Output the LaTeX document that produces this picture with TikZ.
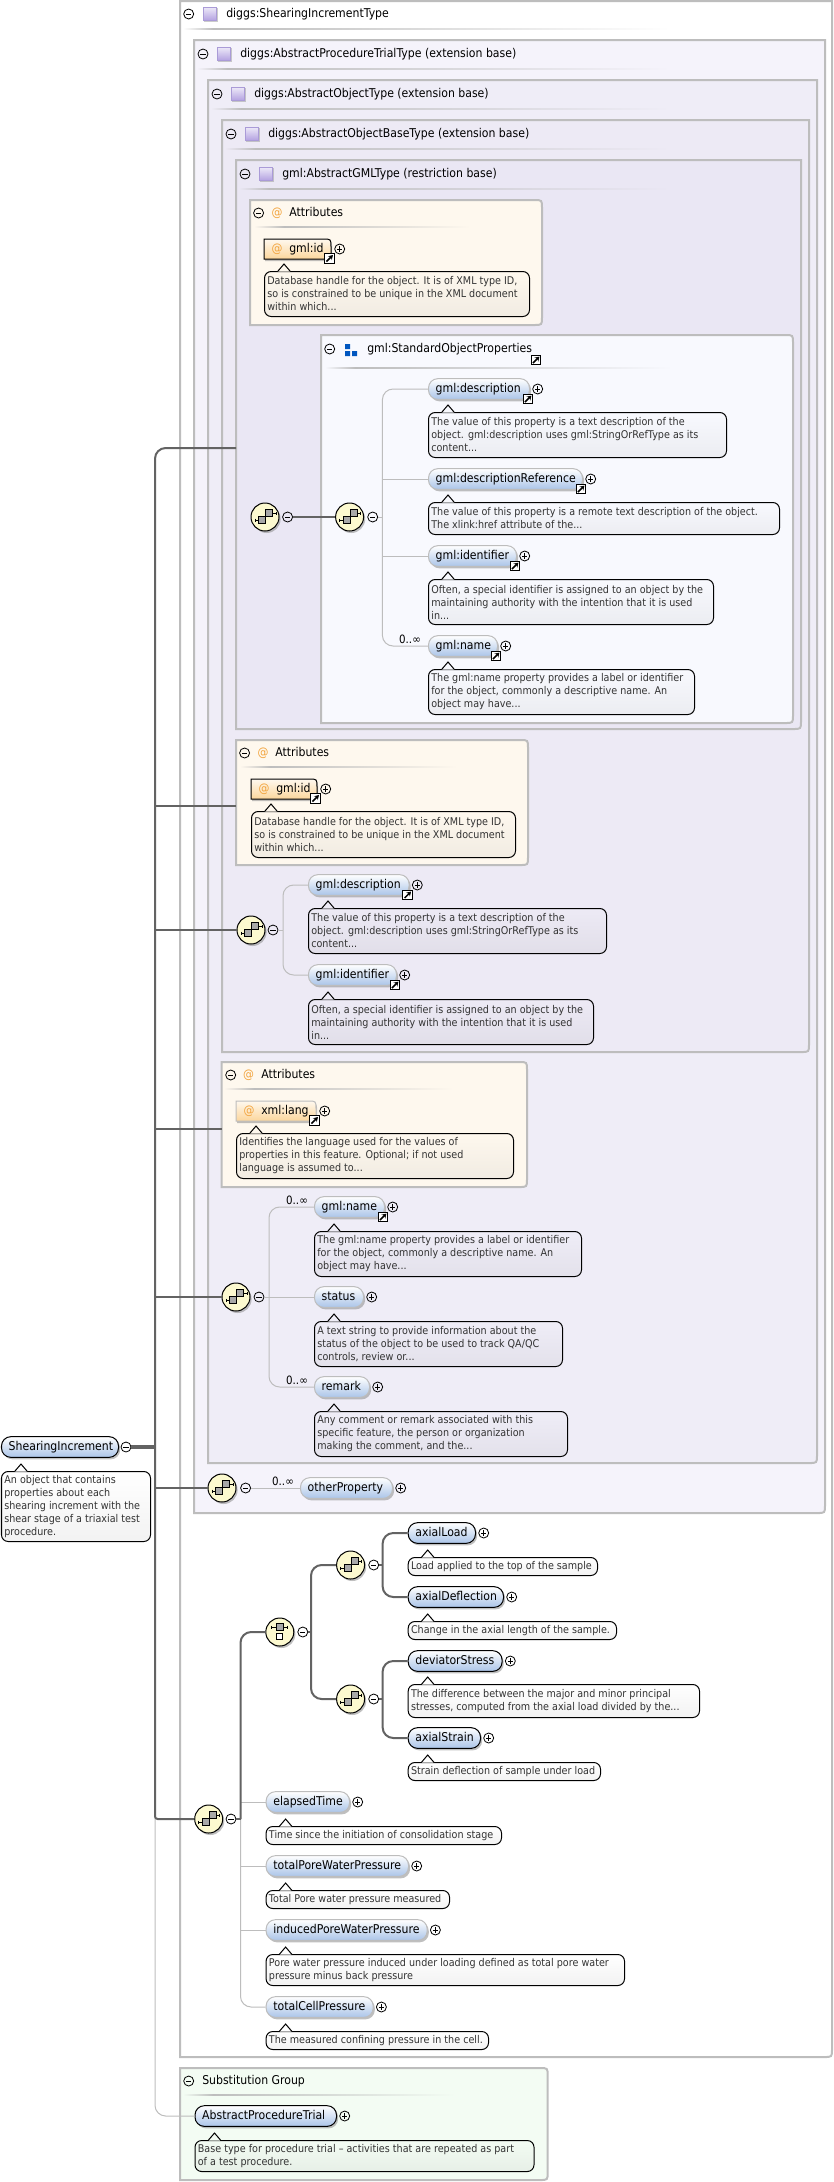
\documentclass[tikz,border=0pt]{standalone}
\usepackage{fontspec}
\setmainfont{DejaVu Sans}[FakeStretch=0.9]
\usetikzlibrary{arrows.meta,shadows}

\definecolor{lvone}{HTML}{F5F3FB}
\definecolor{lvtwo}{HTML}{EFEDF7}
\definecolor{lvthree}{HTML}{EDEAF5}
\definecolor{lvfour}{HTML}{EAE7F4}
\definecolor{sopbg}{HTML}{F8F9FE}
\definecolor{attrbg}{HTML}{FEF8EE}
\definecolor{subbg}{HTML}{F3FCF3}
\definecolor{rimgray}{HTML}{BDBDBD}
\definecolor{stemgray}{HTML}{636363}
\definecolor{boxgray}{HTML}{A8A8A8}

\newcommand{\typepanel}[5]{\draw[panel,fill=#5] (#1,#2) -- (#3,#2) -- (#3,{#4-8}) .. controls (#3,#4) .. ({#3-8},#4) -- (#1,#4) -- cycle;}
\newcommand{\roundpanel}[5]{\draw[panel,fill=#5] (#1,#2) -- ({#3-8},#2) .. controls (#3,#2) .. (#3,{#2+8}) -- (#3,{#4-8}) .. controls (#3,#4) .. ({#3-8},#4) -- (#1,#4) -- cycle;}
\newcommand{\panelhead}[5]{%
  \node[minusc] (#1) at (#2,#3) {};
  \node[lab,anchor=west] (#1-t) at (#4,#3) {#5};}
\newcommand{\sepline}[4]{%
  \shade[left color=#4,right color=rimgray] (#1,#3) rectangle ({#1+30},{#3+1.7});
  \shade[left color=rimgray,right color=#4] ({#1+30},#3) rectangle (#2,{#3+1.7});}
\newcommand{\descnote}[7]{%
  \node[notebox=#2,anchor=north west,minimum width={(#5-#3)*0.75pt},minimum height={(#6-#4)*0.75pt},
    label={[desc]west:{#7}}] (#1) at (#3,#4) {};
  \filldraw[fill=#2,line width=.75pt] ({#3+13.5},{#4+.6}) -- ({#3+20},{#4-7}) -- ({#3+26.5},{#4+.6});}
\newcommand{\elem}[6][]{%
  \node[pill,#1,anchor=west,minimum width={(#5-#3)*0.75pt},label={[lab,anchor=west,xshift=5.6pt]west:{#6}}] (#2) at (#3,#4) {};
  \node[plusc] (#2-p) at ({#5+8.7},#4) {};}
\newcommand{\jump}[1]{\node[jumpbox] (#1-j) at ([shift={(-2,10)}]#1.east) {};}
\newcommand{\attrnode}[6][draw=black]{%
  \draw[attrshape,#1] (#3,{#4-10}) -- ({#5-8},{#4-10}) .. controls (#5,{#4-10}) .. (#5,{#4-2}) -- (#5,{#4+10}) -- (#3,{#4+10}) -- cycle;
  \node[atsign] (#2-a) at ({#3+13},#4) {@};
  \node[lab,anchor=west] (#2) at ({#3+25},#4) {#6};
  \node[plusc] (#2-p) at ({#5+8.7},#4) {};
  \node[jumpbox] (#2-j) at ({#5-1.5},{#4+9.5}) {};}

\begin{document}
\begin{tikzpicture}[
    x=0.75pt, y=-0.75pt,
    panel/.style={draw=rimgray, line width=1.5pt},
    lab/.style={inner sep=0pt, text height=7pt, text depth=2pt, font={\fontsize{9.1}{10}\selectfont}},
    desc/.style={anchor=west, inner sep=0pt, xshift=2.3pt, align=left, text=black!80, font={\fontsize{8}{9.75}\selectfont}},
    notebox/.style={draw=black, line width=.75pt, rounded corners=5pt, top color=#1, bottom color=#1!95!black, inner sep=0pt},
    pill/.style={draw=black, line width=.75pt, rounded corners=7pt, minimum height=15.5pt, inner sep=0pt,
      top color=white, middle color={rgb,255:red,226;green,235;blue,249}, bottom color={rgb,255:red,170;green,196;blue,232},
      drop shadow={shadow xshift=1.2pt, shadow yshift=-1.5pt, opacity=.55, fill=black!45}},
    inh/.style={draw=rimgray},
    attrshape/.style={line width=.75pt, top color=attrbg, bottom color={rgb,255:red,252;green,214;blue,156},
      drop shadow={shadow xshift=.8pt, shadow yshift=-1.5pt, opacity=.55, fill=black!45}},
    atsign/.style={inner sep=0pt, text={rgb,255:red,242;green,163;blue,60}, font={\fontsize{9.1}{10}\selectfont}},
    minusc/.style={circle, draw=black, line width=.6pt, minimum size=7.5pt, inner sep=0pt,
      path picture={\draw[line width=.6pt] ([xshift=-2pt]path picture bounding box.center) -- ([xshift=2pt]path picture bounding box.center);}},
    plusc/.style={minusc,
      path picture={\draw[line width=.6pt] ([xshift=-2pt]path picture bounding box.center) -- ([xshift=2pt]path picture bounding box.center)
        ([yshift=-2pt]path picture bounding box.center) -- ([yshift=2pt]path picture bounding box.center);}},
    jumpbox/.style={rectangle, draw=black, fill=white, line width=1pt, minimum size=7.2pt, inner sep=0pt,
      path picture={\draw[line width=1.1pt,-{Stealth[length=3.2pt,width=4pt]}] ([shift={(-3,3)}]path picture bounding box.center) -- ([shift={(3.4,-3.4)}]path picture bounding box.center);}},
    typeicon/.style={rectangle, draw={rgb,255:red,170;green,155;blue,215}, line width=.5pt, minimum size=10pt, inner sep=0pt,
      top color={rgb,255:red,236;green,232;blue,248}, bottom color={rgb,255:red,178;green,160;blue,224},
      drop shadow={shadow xshift=.8pt, shadow yshift=-.8pt, opacity=.5, fill=black!40}},
    groupicon/.style={rectangle, minimum size=9pt, inner sep=0pt,
      path picture={\begin{scope}[shift={(path picture bounding box.center)}]
        \fill[blue!55!cyan!75!black] (-6,-6) rectangle (-1,-1) (-6,1) rectangle (-1,6) (1,1) rectangle (6,6);
      \end{scope}}},
    seqnode/.style={circle, draw=black, line width=.75pt, fill={rgb,255:red,252;green,249;blue,207}, minimum size=21pt, inner sep=0pt,
      drop shadow={shadow xshift=1.2pt, shadow yshift=-1.5pt, opacity=.55, fill=black!45},
      path picture={\begin{scope}[shift={(path picture bounding box.center)}]
        \draw[line width=.6pt] (-10,3) -- (-6.5,3) (-10,1.5) -- (-10,4.5) (7.5,-4) -- (11,-4) (11,-5.5) -- (11,-2.5);
        \draw[line width=.6pt,fill=boxgray] (.5,-7.5) rectangle (7.5,-.5);
        \draw[line width=.6pt,fill=boxgray] (-6.5,-.8) rectangle (.5,6.2);
      \end{scope}}},
    choicenode/.style={seqnode,
      path picture={\begin{scope}[shift={(path picture bounding box.center)}]
        \draw[line width=.6pt] (-8,-5) -- (8,-5) (-8,-6.5) -- (-8,-3.5) (8,-6.5) -- (8,-3.5);
        \draw[line width=.6pt,fill=boxgray] (-3.5,-8.5) rectangle (3.5,-1.5);
        \draw[line width=.6pt,fill=white] (-3,1.5) rectangle (3,7.5);
      \end{scope}}},
    darkln/.style={draw=stemgray, line width=1.5pt},
    lightln/.style={draw=rimgray, line width=.75pt},
    occurs/.style={inner sep=0pt, font={\fontsize{8.6}{10}\selectfont}}
  ]
    \useasboundingbox (0,0) rectangle (834,2182);

    % nested type panels
    \typepanel{180}{1}{832}{2057}{white}
    \panelhead{shtype}{188.7}{14}{226}{diggs:ShearingIncrementType}
    \node[typeicon] (shtype-i) at (210,14) {};
    \sepline{183}{670}{28}{white}

    \typepanel{194}{40}{825}{1513}{lvone}
    \panelhead{trialtype}{203}{54}{240}{diggs:AbstractProcedureTrialType (extension base)}
    \node[typeicon] (trialtype-i) at (224,54) {};
    \sepline{197}{670}{68}{lvone}

    \typepanel{208}{80}{817}{1463}{lvtwo}
    \panelhead{objtype}{217}{94}{254}{diggs:AbstractObjectType (extension base)}
    \node[typeicon] (objtype-i) at (238,94) {};
    \sepline{211}{670}{108}{lvtwo}

    \typepanel{222}{120}{809}{1052}{lvthree}
    \panelhead{basetype}{231}{134}{268}{diggs:AbstractObjectBaseType (extension base)}
    \node[typeicon] (basetype-i) at (252,134) {};
    \sepline{225}{670}{148}{lvthree}

    \typepanel{236}{160}{801}{729}{lvfour}
    \panelhead{gmltype}{245}{174}{282}{gml:AbstractGMLType (restriction base)}
    \node[typeicon] (gmltype-i) at (266,174) {};
    \sepline{239}{670}{188}{lvfour}

    % attributes of gml type
    \roundpanel{250}{200}{542}{325}{attrbg}
    \panelhead{attra}{258.6}{213}{289}{Attributes}
    \node[atsign] (attra-a) at (277,213) {@};
    \sepline{254}{470}{226}{attrbg}
    \attrnode{ida}{264}{249}{331}{gml:id}
    \descnote{idanote}{attrbg}{264}{271}{529}{316}{Database handle for the object. It is of XML type ID,\\so is constrained to be unique in the XML document\\within which...}

    % standard object properties
    \roundpanel{321}{335}{793}{723}{sopbg}
    \panelhead{sop}{329.7}{349}{367}{gml:StandardObjectProperties}
    \node[groupicon] (sop-i) at (351,350) {};
    \node[jumpbox] (sop-j) at (536,360) {};
    \sepline{325}{672}{367}{sopbg}

    \node[seqnode] (seqa) at (265,517) {};
    \node[minusc] (seqam) at (287.6,517) {};
    \node[seqnode] (seqb) at (349.6,517) {};
    \node[minusc] (seqbm) at (372.7,517) {};
    \coordinate (sopbar) at (382.4,517);

    \elem[inh]{sopdesc}{428}{389}{529}{gml:description}
    \jump{sopdesc}
    \descnote{sopdescnote}{sopbg}{428}{412}{726}{457}{The value of this property is a text description of the\\object. gml:description uses gml:StringOrRefType as its\\content...}
    \elem[inh]{sopref}{428}{479}{582}{gml:descriptionReference}
    \jump{sopref}
    \descnote{soprefnote}{sopbg}{428}{502}{779}{534}{The value of this property is a remote text description of the object.\\The xlink:href attribute of the...}
    \elem[inh]{sopid}{428}{556}{516}{gml:identifier}
    \jump{sopid}
    \descnote{sopidnote}{sopbg}{428}{579}{713}{624}{Often, a special identifier is assigned to an object by the\\maintaining authority with the intention that it is used\\in...}
    \elem[inh]{sopname}{428}{646}{497}{gml:name}
    \jump{sopname}
    \descnote{sopnamenote}{sopbg}{428}{669}{694}{714}{The gml:name property provides a label or identifier\\for the object, commonly a descriptive name. An\\object may have...}
    \node[occurs] (sopocc) at (410,639) {0..∞};

    % attributes of object base type
    \roundpanel{236}{740}{528}{865}{attrbg}
    \panelhead{attrb}{244.6}{753}{275}{Attributes}
    \node[atsign] (attrb-a) at (263,753) {@};
    \sepline{240}{457}{766}{attrbg}
    \attrnode{idb}{251}{789}{317}{gml:id}
    \descnote{idbnote}{attrbg}{251}{811}{515}{857}{Database handle for the object. It is of XML type ID,\\so is constrained to be unique in the XML document\\within which...}

    \node[seqnode] (seqc) at (251,930) {};
    \node[minusc] (seqcm) at (273,930) {};
    \coordinate (basebar) at (283,930);
    \elem[inh]{basedesc}{308}{885}{408.6}{gml:description}
    \jump{basedesc}
    \descnote{basedescnote}{lvthree}{308}{908}{606}{953}{The value of this property is a text description of the\\object. gml:description uses gml:StringOrRefType as its\\content...}
    \elem[inh]{baseid}{308}{975}{396}{gml:identifier}
    \jump{baseid}
    \descnote{baseidnote}{lvthree}{308}{999}{593}{1044}{Often, a special identifier is assigned to an object by the\\maintaining authority with the intention that it is used\\in...}

    % attributes of object type
    \roundpanel{221.7}{1062}{527}{1187}{attrbg}
    \panelhead{attrc}{230.7}{1075}{261}{Attributes}
    \node[atsign] (attrc-a) at (248.7,1075) {@};
    \sepline{224}{453}{1088}{attrbg}
    \attrnode[draw=rimgray]{lang}{236}{1111}{316}{xml:lang}
    \descnote{langnote}{attrbg}{236}{1133}{513}{1178}{Identifies the language used for the values of\\properties in this feature. Optional; if not used\\language is assumed to...}

    \node[seqnode] (seqd) at (236,1297) {};
    \node[minusc] (seqdm) at (259,1297) {};
    \coordinate (objbar) at (269,1297);
    \elem[inh]{objname}{314}{1207}{384}{gml:name}
    \jump{objname}
    \descnote{objnamenote}{lvtwo}{314}{1231}{581}{1276}{The gml:name property provides a label or identifier\\for the object, commonly a descriptive name. An\\object may have...}
    \elem[inh]{objstatus}{314}{1297}{363}{status}
    \descnote{objstatusnote}{lvtwo}{314}{1321}{562}{1366}{A text string to provide information about the\\status of the object to be used to track QA/QC\\controls, review or...}
    \elem[inh]{objremark}{314}{1387}{369}{remark}
    \descnote{objremarknote}{lvtwo}{314}{1411}{567}{1456}{Any comment or remark associated with this\\specific feature, the person or organization\\making the comment, and the...}
    \node[occurs] (objocca) at (297,1200.5) {0..∞};
    \node[occurs] (objoccb) at (297,1380) {0..∞};

    % trial type sequence
    \node[seqnode] (seqe) at (222,1488) {};
    \node[minusc] (seqem) at (245.6,1488) {};
    \elem[inh]{other}{300}{1488}{392}{otherProperty}
    \node[occurs] (otherocc) at (283,1481.5) {0..∞};

    % own content of the type
    \node[seqnode] (seqf) at (208.7,1819) {};
    \node[minusc] (seqfm) at (231,1819) {};
    \coordinate (ownbar) at (240.5,1819);
    \node[choicenode] (pick) at (279.8,1632) {};
    \node[minusc] (pickm) at (302.8,1632) {};
    \coordinate (pickbar) at (311,1632);
    \node[seqnode] (seqg) at (350.6,1565) {};
    \node[minusc] (seqgm) at (373.7,1565) {};
    \coordinate (gbar) at (382.6,1565);
    \node[seqnode] (seqh) at (350.6,1699) {};
    \node[minusc] (seqhm) at (373.7,1699) {};
    \coordinate (hbar) at (382.6,1699);

    \elem{axload}{407.7}{1533}{475}{axialLoad}
    \descnote{axloadnote}{white}{407.7}{1557}{597}{1575}{Load applied to the top of the sample}
    \elem{axdefl}{407.7}{1597}{503}{axialDeflection}
    \descnote{axdeflnote}{white}{407.7}{1621}{616}{1639}{Change in the axial length of the sample.}
    \elem{devstress}{407.7}{1661}{501.6}{deviatorStress}
    \descnote{devstressnote}{white}{407.7}{1684}{699}{1717}{The difference between the major and minor principal\\stresses, computed from the axial load divided by the...}
    \elem{axstrain}{407.7}{1738}{480}{axialStrain}
    \descnote{axstrainnote}{white}{407.7}{1762}{600}{1780}{Strain deflection of sample under load}

    \elem[inh]{elapsed}{265.6}{1802}{349}{elapsedTime}
    \descnote{elapsednote}{white}{265.6}{1826}{501}{1844}{Time since the initiation of consolidation stage}
    \elem[inh]{totpore}{265.6}{1866}{408}{totalPoreWaterPressure}
    \descnote{totporenote}{white}{265.6}{1890}{449}{1908}{Total Pore water pressure measured}
    \elem[inh]{indpore}{265.6}{1930}{426.7}{inducedPoreWaterPressure}
    \descnote{indporenote}{white}{265.6}{1954}{624}{1985}{Pore water pressure induced under loading defined as total pore water\\pressure minus back pressure}
    \elem[inh]{totcell}{265.6}{2007}{372.7}{totalCellPressure}
    \descnote{totcellnote}{white}{265.6}{2031}{488}{2049}{The measured confining pressure in the cell.}

    % substitution group
    \roundpanel{180}{2068}{547.7}{2180}{subbg}
    \panelhead{subst}{188.7}{2081}{202}{Substitution Group}
    \sepline{183}{455}{2094}{subbg}
    \elem{apt}{194.5}{2116}{336}{AbstractProcedureTrial}
    \descnote{aptnote}{subbg}{194.5}{2140}{533.5}{2171}{Base type for procedure trial – activities that are repeated as part\\of a test procedure.}

    % root element
    \node[pill,anchor=west,minimum width=87.75pt,label={[lab,anchor=west,xshift=5.6pt]west:{ShearingIncrement}}] (shinc) at (1,1447) {};
    \node[minusc] (shinc-m) at (126,1447) {};
    \descnote{shincnote}{white}{1}{1471}{150}{1541}{An object that contains\\properties about each\\shearing increment with the\\shear stage of a triaxial test\\procedure.}
    \coordinate (stemjn) at (155,1447);
    \coordinate (gmlin) at (236,448);
    \coordinate (attrbin) at (236,806);
    \coordinate (attrcin) at (221.7,1129);

    % connectors
    \draw[lightln,rounded corners=8pt] (stemjn) |- (apt.west);
    \draw[darkln,rounded corners=8pt] (stemjn) |- (gmlin);
    \draw[darkln] (attrbin) -| (stemjn);
    \draw[darkln] (seqc.west) -| (stemjn);
    \draw[darkln] (attrcin) -| (stemjn);
    \draw[darkln] (seqd.west) -| (stemjn);
    \draw[darkln] (seqe.west) -| (stemjn);
    \draw[darkln,rounded corners=2pt] (seqf.west) -| (stemjn);
    \draw[darkln,line width=2.4pt] (shinc-m.east) -- (stemjn);

    \draw[darkln] (seqam.east) -- (seqb.west);
    \draw[lightln] (seqbm.east) -- (sopbar);
    \draw[lightln,rounded corners=8pt] (sopdesc.west) -| (sopbar) |- (sopname.west);
    \draw[lightln] (sopref.west) -| (sopbar);
    \draw[lightln] (sopid.west) -| (sopbar);

    \draw[lightln] (seqcm.east) -- (basebar);
    \draw[lightln,rounded corners=8pt] (basedesc.west) -| (basebar) |- (baseid.west);

    \draw[lightln] (seqdm.east) -- (objstatus.west);
    \draw[lightln,rounded corners=8pt] (objname.west) -| (objbar) |- (objremark.west);

    \draw[lightln] (seqem.east) -- (other.west);

    \draw[lightln] (elapsed.west) -| (ownbar);
    \draw[lightln] (totpore.west) -| (ownbar);
    \draw[lightln] (indpore.west) -| (ownbar);
    \draw[lightln,rounded corners=8pt] (ownbar) |- (totcell.west);
    \draw[darkln,line width=1.1pt] (seqfm.east) -- (ownbar);
    \draw[darkln,rounded corners=8pt] (pick.west) -| (ownbar);
    \draw[darkln,line width=1.1pt] (pickm.east) -- (pickbar);
    \draw[darkln,rounded corners=8pt] (seqg.west) -| (pickbar) |- (seqh.west);
    \draw[darkln,line width=1.1pt] (seqgm.east) -- (gbar);
    \draw[darkln,rounded corners=8pt] (axload.west) -| (gbar) |- (axdefl.west);
    \draw[darkln,line width=1.1pt] (seqhm.east) -- (hbar);
    \draw[darkln,rounded corners=8pt] (devstress.west) -| (hbar) |- (axstrain.west);
  \end{tikzpicture}
\end{document}
